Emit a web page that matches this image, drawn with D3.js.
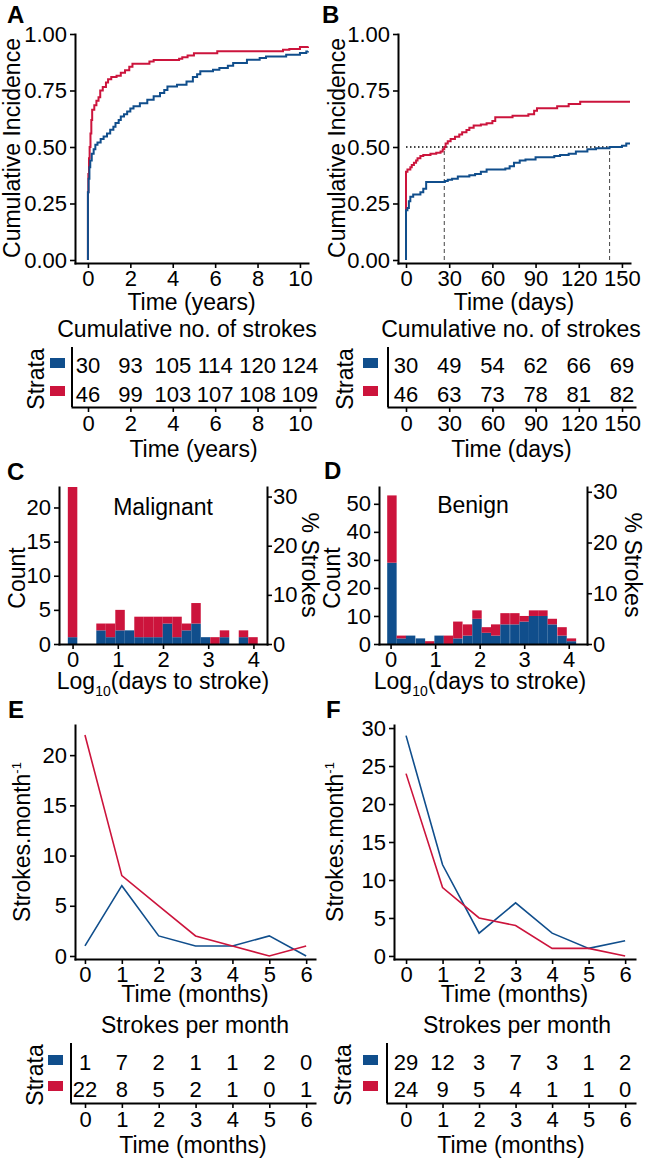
<!DOCTYPE html>
<html><head><meta charset="utf-8">
<script src="https://cdn.jsdelivr.net/npm/d3@7"></script>
<style>body{margin:0;background:#fff}</style>
</head><body><svg id="c" width="645" height="1158"></svg>
<script>
// ---------- DATA ----------
const yearsTicks = [0, 2, 4, 6, 8, 10];
const daysTicks = [0, 30, 60, 90, 120, 150];
const monthsTicks = [0, 1, 2, 3, 4, 5, 6];
const cifTicks = [0, 0.25, 0.5, 0.75, 1];
const logTicks = [0, 1, 2, 3, 4];
const pctTicks = [0, 10, 20, 30];

const cumStrokesYearsBlue = [30, 93, 105, 114, 120, 124];
const cumStrokesYearsRed = [46, 99, 103, 107, 108, 109];
const cumStrokesDaysBlue = [30, 49, 54, 62, 66, 69];
const cumStrokesDaysRed = [46, 63, 73, 78, 81, 82];

const monthlyMalignantBlue = [1, 7, 2, 1, 1, 2, 0];
const monthlyMalignantRed = [22, 8, 5, 2, 1, 0, 1];
const monthlyBenignBlue = [29, 12, 3, 7, 3, 1, 2];
const monthlyBenignRed = [24, 9, 5, 4, 1, 1, 0];

// cumulative incidence steps [time, value]
const cifYearsRed = [[0,0],[0,0.30],[0.02,0.38],[0.05,0.45],[0.08,0.50],[0.12,0.56],[0.16,0.62],[0.2,0.665],[0.3,0.685],[0.4,0.705],[0.5,0.72],[0.58,0.75],[0.7,0.765],[0.85,0.785],[0.95,0.80],[1.1,0.81],[1.35,0.815],[1.55,0.828],[1.75,0.84],[1.95,0.855],[2.1,0.868],[2.9,0.878],[3.1,0.885],[4.3,0.89],[4.45,0.897],[4.7,0.905],[5.0,0.915],[6.1,0.924],[9.2,0.93],[9.5,0.934],[10.0,0.942],[10.38,0.945]];
const cifYearsBlue = [[0,0],[0,0.30],[0.03,0.36],[0.07,0.41],[0.11,0.44],[0.18,0.47],[0.27,0.49],[0.35,0.51],[0.45,0.52],[0.6,0.535],[0.74,0.546],[0.9,0.56],[1.05,0.576],[1.2,0.59],[1.3,0.606],[1.45,0.62],[1.55,0.635],[1.7,0.645],[1.85,0.657],[2.0,0.67],[2.15,0.68],[2.45,0.694],[2.8,0.709],[3.1,0.724],[3.4,0.739],[3.6,0.752],[3.75,0.768],[4.2,0.775],[4.65,0.79],[4.95,0.81],[5.15,0.822],[5.3,0.835],[5.9,0.842],[6.2,0.85],[6.6,0.86],[6.85,0.872],[7.5,0.886],[8.1,0.894],[8.4,0.90],[9.35,0.908],[10.0,0.916],[10.3,0.923],[10.38,0.924]];
const cifDaysRed = [[0,0],[0,0.39],[1,0.40],[3,0.41],[4,0.42],[5.5,0.43],[7,0.44],[8,0.45],[10,0.46],[12,0.465],[17,0.47],[21,0.475],[24,0.48],[25.5,0.49],[26.6,0.50],[27.5,0.515],[29,0.525],[31,0.535],[34,0.545],[37,0.555],[39,0.565],[42,0.575],[44,0.585],[47,0.595],[52,0.60],[56,0.605],[60,0.615],[62,0.632],[74,0.638],[85,0.645],[89,0.66],[91,0.672],[105,0.68],[113,0.69],[121,0.70],[155.6,0.70]];
const cifDaysBlue = [[0,0],[0,0.22],[1,0.23],[2,0.26],[3,0.28],[5,0.29],[10,0.30],[12,0.315],[14,0.345],[27,0.35],[29,0.355],[32,0.36],[36,0.37],[44,0.375],[48,0.38],[52,0.39],[56,0.40],[69,0.405],[72,0.415],[75,0.43],[79,0.44],[83,0.445],[90,0.455],[103,0.46],[107,0.465],[113,0.47],[118,0.48],[126,0.49],[132,0.495],[141.4,0.50],[150,0.505],[153,0.515],[155.6,0.515]];
const medianDays = [26.6, 141.4];

// histograms: log10(days to stroke) bin centres and stacked counts
const binsMalignant = [0,0.21,0.42,0.63,0.84,1.05,1.26,1.47,1.68,1.89,2.1,2.31,2.52,2.73,2.94,3.15,3.36,3.57,3.78,3.99];
const histMalignantBlue = [1,0,0,2,1,2,2,1,1,1,3,1,2,3,1,0,1,0,1,0];
const histMalignantRed  = [22,0,0,1,2,3,0,3,3,3,1,3,1,3,0,1,1,0,1,1];
const binsBenign = [0.03,0.24,0.45,0.67,0.88,1.09,1.30,1.51,1.73,1.94,2.15,2.36,2.57,2.79,3.00,3.21,3.42,3.63,3.85,4.06];
const histBenignBlue = [29,2,3,2,0,3,0,2,3,9,4,3,7,7,8,10,10,7,3,1];
const histBenignRed  = [24,1,0,0,1,0,3,6,4,3,2,4,4,4,2,2,2,2,3,1];

// ---------- STYLE ----------
const RED = "#CC143C", BLUE = "#104E8C";
const FONT = "'Liberation Sans', Arial, Helvetica, sans-serif";
const FS = 22, FT = 23;
const svg = d3.select("#c");
const intFmt = d => String(d);

function text(x, y, s, anchor = "middle", size = FT, weight = "normal") {
  return svg.append("text").attr("x", x).attr("y", y).attr("text-anchor", anchor)
    .attr("font-family", FONT).attr("font-size", size).attr("font-weight", weight).attr("fill", "#000").text(s);
}
function rtext(x, y, s, angle = -90) {
  return svg.append("text").attr("transform", `translate(${x},${y}) rotate(${angle})`)
    .attr("text-anchor", "middle").attr("dy", "0.35em")
    .attr("font-family", FONT).attr("font-size", FT).attr("fill", "#000").text(s);
}
function styleAxis(g) {
  g.attr("font-size", FS).attr("font-family", FONT);
  g.selectAll("path.domain").attr("stroke", "#000").attr("stroke-width", 2).attr("stroke-linecap", "square");
  g.selectAll(".tick line").attr("stroke", "#000").attr("stroke-width", 1.6);
  g.selectAll(".tick text").attr("fill", "#000");
}
function letter(x, y, s) { text(x, y, s, "start", 24, "bold"); }

// ---------- CUMULATIVE INCIDENCE PANELS ----------
function survPanel(o) {
  const x = d3.scaleLinear(o.xDom, [o.left, o.right]);
  const y = d3.scaleLinear([-0.0133, 1], [263, 34]);
  if (o.medians) {
    const mx = d3.max(o.medians);
    svg.append("line").attr("x1", x(0)).attr("x2", x(mx)).attr("y1", y(0.5)).attr("y2", y(0.5))
      .attr("stroke", "#000").attr("stroke-width", 1.3).attr("stroke-dasharray", "1.5,2.5");
    o.medians.forEach(m => svg.append("line").attr("x1", x(m)).attr("x2", x(m)).attr("y1", y(0)).attr("y2", y(0.5))
      .attr("stroke", "#555").attr("stroke-width", 1.1).attr("stroke-dasharray", "4,3"));
  }
  const line = d3.line().x(d => x(d[0])).y(d => y(d[1])).curve(d3.curveStepAfter);
  svg.append("path").datum(o.red).attr("d", line).attr("fill", "none").attr("stroke", RED).attr("stroke-width", 2);
  svg.append("path").datum(o.blue).attr("d", line).attr("fill", "none").attr("stroke", BLUE).attr("stroke-width", 2);
  styleAxis(svg.append("g").attr("transform", `translate(${o.left},0)`)
    .call(d3.axisLeft(y).tickValues(cifTicks).tickFormat(d3.format(".2f")).tickSize(5).tickPadding(3).tickSizeOuter(0)));
  styleAxis(svg.append("g").attr("transform", `translate(0,263)`)
    .call(d3.axisBottom(x).tickValues(o.ticks).tickFormat(intFmt).tickSize(5).tickPadding(2).tickSizeOuter(0)));
  rtext(o.ylabX, 148, "Cumulative Incidence");
  text((o.left + o.right) / 2, 310, o.xlabel);
}

// ---------- RISK TABLES ----------
function tablePanel(o) {
  const x = d3.scaleLinear(o.xDom, [o.left, o.right]);
  text(o.titleX, o.titleY, o.title);
  svg.append("line").attr("x1", o.left).attr("x2", o.left).attr("y1", o.top).attr("y2", o.axisY)
    .attr("stroke", "#000").attr("stroke-width", 2);
  styleAxis(svg.append("g").attr("transform", `translate(0,${o.axisY})`)
    .call(d3.axisBottom(x).tickValues(o.ticks).tickFormat(intFmt).tickSize(5).tickPadding(3).tickSizeOuter(0)));
  o.blue.forEach((v, i) => text(x(o.ticks[i]), o.row1, v, "middle", FS));
  o.red.forEach((v, i) => text(x(o.ticks[i]), o.row2, v, "middle", FS));
  svg.append("rect").attr("x", o.sqX).attr("y", o.row1 - 15).attr("width", 15).attr("height", 10).attr("fill", BLUE);
  svg.append("rect").attr("x", o.sqX).attr("y", o.row2 - 16).attr("width", 15).attr("height", 10).attr("fill", RED);
  rtext(o.strataX, (o.top + o.axisY) / 2 + 2, "Strata");
  text((o.left + o.right) / 2, o.axisY + 50, o.xlabel);
}

// ---------- HISTOGRAMS ----------
function histPanel(o) {
  const x = d3.scaleLinear(o.xDom, [o.left, o.right]);
  const y = d3.scaleLinear([0, o.yMax], [644, 487]);
  const total = d3.sum(o.blue) + d3.sum(o.red);
  const pct = d3.scaleLinear([0, o.yMax / total * 100], [644, 487]);
  const w = x(o.bw) - x(0);
  o.bins.forEach((c, i) => {
    const b = o.blue[i], r = o.red[i];
    if (b > 0) svg.append("rect").attr("x", x(c) - w / 2).attr("width", w).attr("y", y(b)).attr("height", y(0) - y(b)).attr("fill", BLUE);
    if (r > 0) svg.append("rect").attr("x", x(c) - w / 2).attr("width", w).attr("y", y(b + r)).attr("height", y(b) - y(b + r)).attr("fill", RED);
  });
  styleAxis(svg.append("g").attr("transform", `translate(${o.left},0)`)
    .call(d3.axisLeft(y).tickValues(o.yTicks).tickFormat(intFmt).tickSize(5).tickPadding(3).tickSizeOuter(0)));
  styleAxis(svg.append("g").attr("transform", `translate(${o.right},0)`)
    .call(d3.axisRight(pct).tickValues(pctTicks).tickFormat(intFmt).tickSize(5).tickPadding(1).tickSizeOuter(0)));
  styleAxis(svg.append("g").attr("transform", `translate(0,644)`)
    .call(d3.axisBottom(x).tickValues(logTicks).tickFormat(intFmt).tickSize(5).tickPadding(2).tickSizeOuter(0)));
  text(o.labelX, o.labelY, o.label);
  rtext(o.countX, 578, "Count");
  rtext(o.pctX, 565, "% Strokes", 90);
  const t = text(o.titleX, 689, "Log");
  t.append("tspan").attr("font-size", 14).attr("dy", 7).text("10");
  t.append("tspan").attr("dy", -7).text("(days to stroke)");
}

// ---------- MONTHLY LINE PANELS ----------
function linePanel(o) {
  const x = d3.scaleLinear(o.xDom, [o.left, o.right]);
  const y = d3.scaleLinear(o.yDom, [959, 725]);
  const line = d3.line().x((d, i) => x(monthsTicks[i])).y(d => y(d));
  svg.append("path").datum(o.blue).attr("d", line).attr("fill", "none").attr("stroke", BLUE).attr("stroke-width", 1.6);
  svg.append("path").datum(o.red).attr("d", line).attr("fill", "none").attr("stroke", RED).attr("stroke-width", 1.6);
  styleAxis(svg.append("g").attr("transform", `translate(${o.left},0)`)
    .call(d3.axisLeft(y).tickValues(o.yTicks).tickFormat(intFmt).tickSize(5).tickPadding(3).tickSizeOuter(0)));
  styleAxis(svg.append("g").attr("transform", `translate(0,959)`)
    .call(d3.axisBottom(x).tickValues(monthsTicks).tickFormat(intFmt).tickSize(5).tickPadding(2).tickSizeOuter(0)));
  const t = rtext(o.ylabX, 842, "Strokes.month");
  t.append("tspan").attr("font-size", 13).attr("dy", -9).text("-1");
  text((o.left + o.right) / 2, 1002, "Time (months)");
}

// ---------- BUILD ----------
letter(7, 23, "A"); letter(322, 23, "B");
letter(7, 480, "C"); letter(324, 479, "D");
letter(8, 718, "E"); letter(326, 718, "F");

survPanel({ xDom: [-0.61, 10.38], left: 75, right: 308, ticks: yearsTicks, red: cifYearsRed, blue: cifYearsBlue, ylabX: 12, xlabel: "Time (years)" });
survPanel({ xDom: [-5.56, 155.6], left: 398, right: 630, ticks: daysTicks, red: cifDaysRed, blue: cifDaysBlue, ylabX: 337, xlabel: "Time (days)", medians: medianDays });

tablePanel({ xDom: [-0.755, 10.71], left: 72, right: 315, ticks: yearsTicks, blue: cumStrokesYearsBlue, red: cumStrokesYearsRed,
  title: "Cumulative no. of strokes", titleX: 187, titleY: 337, top: 347, axisY: 407, row1: 373, row2: 402, sqX: 50, strataX: 36, xlabel: "Time (years)" });
tablePanel({ xDom: [-12.5, 159], left: 388, right: 635, ticks: daysTicks, blue: cumStrokesDaysBlue, red: cumStrokesDaysRed,
  title: "Cumulative no. of strokes", titleX: 511, titleY: 337, top: 347, axisY: 407, row1: 373, row2: 402, sqX: 363, strataX: 345, xlabel: "Time (days)" });

histPanel({ xDom: [-0.3, 4.3], left: 59, right: 267, yMax: 23, yTicks: [0, 5, 10, 15, 20], bins: binsMalignant, bw: 0.21,
  blue: histMalignantBlue, red: histMalignantRed, label: "Malignant", labelX: 163, labelY: 515, countX: 17, pctX: 310, titleX: 163 });
histPanel({ xDom: [-0.26, 4.41], left: 379, right: 587, yMax: 56, yTicks: [0, 10, 20, 30, 40, 50], bins: binsBenign, bw: 0.212,
  blue: histBenignBlue, red: histBenignRed, label: "Benign", labelX: 473, labelY: 513, countX: 332, pctX: 633, titleX: 480 });

linePanel({ xDom: [-0.27, 6.24], left: 75, right: 315, yDom: [-0.3, 23], yTicks: [0, 5, 10, 15, 20], blue: monthlyMalignantBlue, red: monthlyMalignantRed, ylabX: 22 });
linePanel({ xDom: [-0.33, 6.27], left: 394, right: 635, yDom: [-0.4, 30.4], yTicks: [0, 5, 10, 15, 20, 25, 30], blue: monthlyBenignBlue, red: monthlyBenignRed, ylabX: 335 });

tablePanel({ xDom: [-0.38, 6.24], left: 71, right: 315, ticks: monthsTicks, blue: monthlyMalignantBlue, red: monthlyMalignantRed,
  title: "Strokes per month", titleX: 195, titleY: 1033, top: 1043, axisY: 1103, row1: 1070, row2: 1097, sqX: 48, strataX: 35, xlabel: "Time (months)" });
tablePanel({ xDom: [-0.52, 6.27], left: 387, right: 635, ticks: monthsTicks, blue: monthlyBenignBlue, red: monthlyBenignRed,
  title: "Strokes per month", titleX: 517, titleY: 1033, top: 1043, axisY: 1103, row1: 1070, row2: 1097, sqX: 363, strataX: 343, xlabel: "Time (months)" });
</script>
</body></html>
